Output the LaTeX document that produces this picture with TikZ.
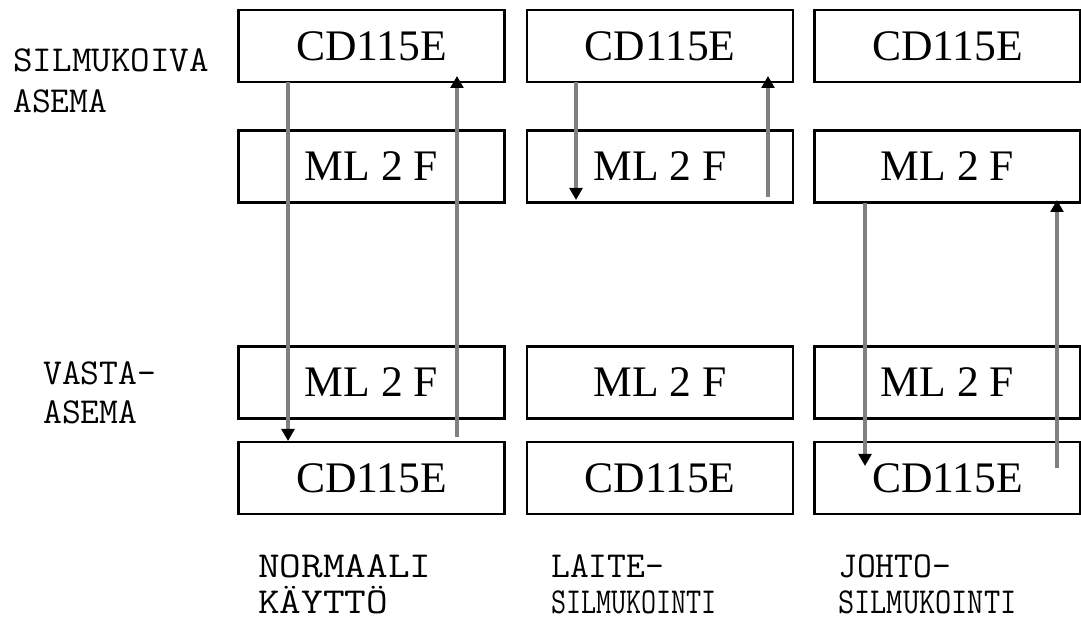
\documentclass[tikz,border=0pt]{standalone}
\usepackage{fontspec}
\setmainfont{Liberation Serif}
\usetikzlibrary{arrows.meta}

\tikzset{
  unit/.style={draw, line width=1.5pt, minimum width=6.65cm, minimum height=1.8cm, inner sep=0pt, font=\fontsize{31}{36}\selectfont},
  signal/.style={draw=gray, line width=2.4pt, -{Triangle[width=0.32cm,length=0.3cm,color=black]}},
  caption/.style={anchor=base west, inner sep=0pt, font=\ttfamily\fontsize{26}{30}\selectfont}
}

\begin{document}
\begin{tikzpicture}[x=0.025cm,y=-0.025cm]
\useasboundingbox (0,0) rectangle (1081,622);

% boxes, three columns
\node[unit] (ca1) at (371.5,46) {CD115E};
\node[unit] (ma1) at (371.5,166.5) {ML 2 F};
\node[unit] (mb1) at (371.5,382.5) {ML 2 F};
\node[unit] (cb1) at (371.5,478) {CD115E};

\node[unit] (ca2) at (660,46) {CD115E};
\node[unit] (ma2) at (660,166.5) {ML 2 F};
\node[unit] (mb2) at (660,382.5) {ML 2 F};
\node[unit] (cb2) at (660,478) {CD115E};

\node[unit] (ca3) at (947.5,46) {CD115E};
\node[unit] (ma3) at (947.5,166.5) {ML 2 F};
\node[unit] (mb3) at (947.5,382.5) {ML 2 F};
\node[unit] (cb3) at (947.5,478) {CD115E};

% arrow end points
\coordinate (d1s) at (288,82);
\coordinate (d1e) at (288,441);
\coordinate (u1s) at (457,437);
\coordinate (u1e) at (457,76);

\coordinate (d2s) at (576,82);
\coordinate (d2e) at (576,200);
\coordinate (u2s) at (768,197);
\coordinate (u2e) at (768,76);

\coordinate (d3s) at (865,203);
\coordinate (d3e) at (865,466);
\coordinate (u3s) at (1057,468);
\coordinate (u3e) at (1057,200);

\draw[signal] (d1s) -- (d1e);
\draw[signal] (u1s) -- (u1e);
\draw[signal] (d2s) -- (d2e);
\draw[signal] (u2s) -- (u2e);
\draw[signal] (d3s) -- (d3e);
\draw[signal] (u3s) -- (u3e);

% station labels
\node[caption] (st1) at (13,72) {\scalebox{1.04}[1]{SILMUKOIVA}};
\node[caption] (st2) at (13,113) {ASEMA};
\node[caption] (st3) at (43,385) {VASTA-};
\node[caption] (st4) at (43,424) {ASEMA};

% mode labels
\node[caption] (md1) at (258,578) {\scalebox{1.15}[1]{NORMAALI}};
\node[caption] (md2) at (258,614) {\scalebox{1.15}[1]{KÄYTTÖ}};
\node[caption] (md3) at (551,578) {LAITE-};
\node[caption] (md4) at (551,614) {\scalebox{0.8}[1]{SILMUKOINTI}};
\node[caption] (md5) at (838,578) {JOHTO-};
\node[caption] (md6) at (838,614) {\scalebox{0.86}[1]{SILMUKOINTI}};

\end{tikzpicture}
\end{document}
